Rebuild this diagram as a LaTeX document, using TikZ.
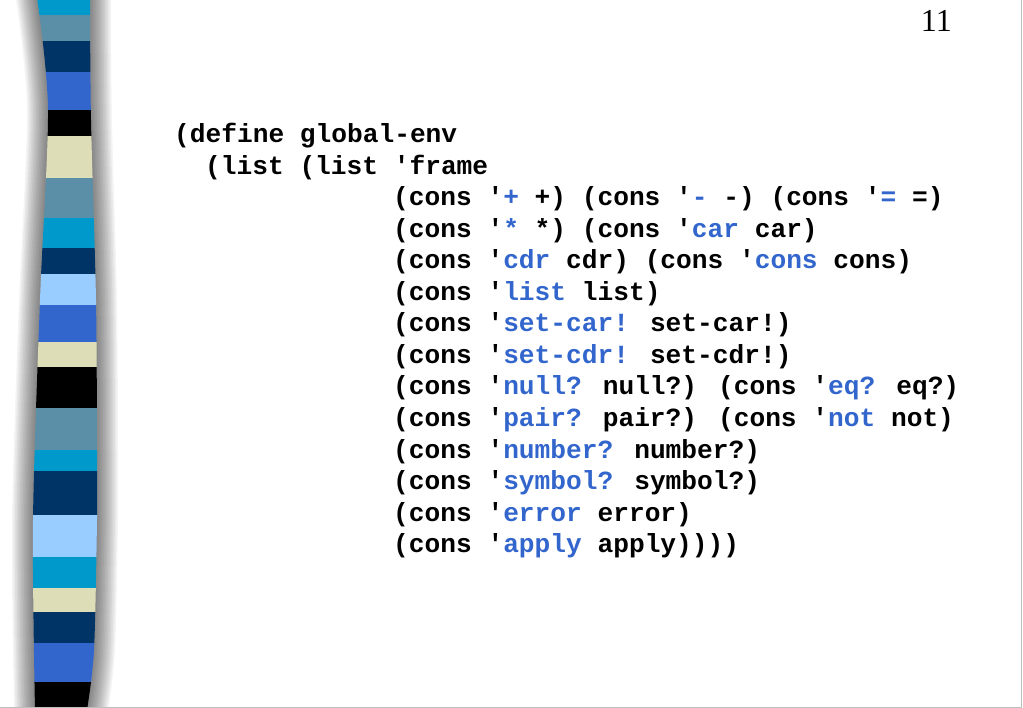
\documentclass[tikz,border=0pt]{standalone}
\usepackage{fontspec}
\newfontfamily\codefont{Liberation Mono}[Ligatures=TeXOff]
\newfontfamily\numfont{Liberation Serif}
\definecolor{kwblue}{HTML}{3366CC}
\definecolor{cyanbar}{HTML}{0099CC}
\definecolor{steelbar}{HTML}{5B8FA8}
\definecolor{navybar}{HTML}{003366}
\definecolor{royalbar}{HTML}{3366CC}
\definecolor{beigebar}{HTML}{DDDDB8}
\definecolor{skybar}{HTML}{99CCFF}
\newcommand{\kw}[1]{\textcolor{kwblue}{#1}}
\newcommand{\barpath}{plot[smooth] coordinates {(37,-2) (48,110) (40,300) (33,520) (35,710)} -- plot[smooth] coordinates {(87,710) (94,650) (97,520) (97,450) (96,300) (91,120) (90,-2)} -- cycle}
\begin{document}
\begin{tikzpicture}[x=1pt,y=-1pt,
code_style/.style={anchor=base west,inner sep=0pt,font=\codefont\bfseries\fontsize{26.2}{31.5}\selectfont},
num_style/.style={anchor=base east,inner sep=0pt,font=\numfont\fontsize{32}{36}\selectfont},
edge_style/.style={draw=black!25,line width=1}]
\useasboundingbox (0,0) rectangle (1023,708);
% shadow round the bar
\foreach \w in {42,39,...,3}
  \draw[line width=\w, black, opacity=0.045, line join=round] \barpath;
% striped bar
\begin{scope}
\clip \barpath;
\foreach \ya/\yb/\col in {-2/15/cyanbar, 15/41/steelbar, 41/72/navybar, 72/110/royalbar,
  110/136/black, 136/178/beigebar, 178/218/steelbar, 218/248/cyanbar, 248/274/navybar,
  274/305/skybar, 305/342/royalbar, 342/367/beigebar, 367/408/black, 408/450/steelbar,
  450/471/cyanbar, 471/515/navybar, 515/557/skybar, 557/588/cyanbar, 588/612/beigebar,
  612/643/navybar, 643/682/royalbar, 682/710/black}
  \fill[\col] (20,\ya) rectangle (115,\yb);
\end{scope}
% page edges
\coordinate (tr) at (1021,0);
\coordinate (br) at (1021,708);
\coordinate (bl) at (0,707);
\coordinate (be) at (1021,707);
\draw[edge_style] (tr) -- (br);
\draw[edge_style] (bl) -- (be);
\node[num_style] (page) at (952,32) {11};
% code
\node[code_style] (l0) at (174,143) {(define global-env};
\node[code_style] (l1) at (205,174.5) {(list (list 'frame};
\node[code_style] (l2) at (393,206) {(cons '\kw{+} +) (cons '\kw{-} -) (cons '\kw{=} =)};
\node[code_style] (l3) at (393,237.5) {(cons '\kw{*} *) (cons '\kw{car} car)};
\node[code_style] (l4) at (393,269) {(cons '\kw{cdr} cdr) (cons '\kw{cons} cons)};
\node[code_style] (l5) at (393,300.5) {(cons '\kw{list} list)};
\node[code_style] (l6) at (393,332) {(cons '\kw{set-car!} set-car!)};
\node[code_style] (l7) at (393,363.5) {(cons '\kw{set-cdr!} set-cdr!)};
\node[code_style] (l8) at (393,395) {(cons '\kw{null?} null?) (cons '\kw{eq?} eq?)};
\node[code_style] (l9) at (393,426.5) {(cons '\kw{pair?} pair?) (cons '\kw{not} not)};
\node[code_style] (l10) at (393,458) {(cons '\kw{number?} number?)};
\node[code_style] (l11) at (393,489.5) {(cons '\kw{symbol?} symbol?)};
\node[code_style] (l12) at (393,521) {(cons '\kw{error} error)};
\node[code_style] (l13) at (393,552.5) {(cons '\kw{apply} apply))))};
\end{tikzpicture}
\end{document}
